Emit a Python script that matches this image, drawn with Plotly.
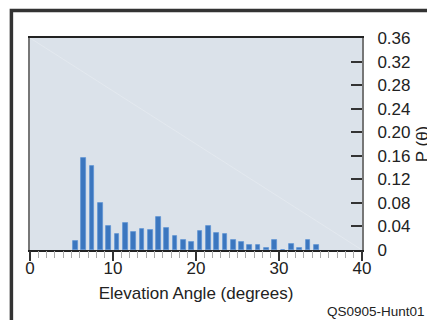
import plotly.graph_objects as go

# Elevation angle bins (degrees, lower edge of each 1-degree bin)
angles = list(range(5, 35))
# Probability P(theta) for each bin
probs = [0.016, 0.156, 0.143, 0.079, 0.041, 0.027, 0.046, 0.031, 0.035, 0.034,
         0.0555, 0.037, 0.023, 0.0165, 0.014, 0.032, 0.041, 0.029, 0.027, 0.0175,
         0.014, 0.008, 0.0085, 0.003, 0.0165, 0.0, 0.011, 0.003, 0.0165, 0.008]

y_ticks = [0, 0.04, 0.08, 0.12, 0.16, 0.20, 0.24, 0.28, 0.32, 0.36]
y_labels = ["0", "0.04", "0.08", "0.12", "0.16", "0.20", "0.24", "0.28", "0.32", "0.36"]
x_ticks = [0, 10, 20, 30, 40]

FONT = "Liberation Sans, Arial, sans-serif"

bar_x = [a + 0.48 for a in angles]

fig = go.Figure()
fig.add_trace(go.Bar(
    x=bar_x, y=probs, width=0.56,
    marker=dict(color="#3b76bf", line=dict(color="#5f93d3", width=0.8)),
    hoverinfo="skip",
))
# invisible companion trace so the tick-mark overlay axis is drawn
fig.add_trace(go.Scatter(
    x=bar_x, y=probs, xaxis="x2", mode="markers",
    marker=dict(opacity=0), hoverinfo="skip",
))

# page has an 8px body margin, so the figure is sized to fit inside it
fig.update_layout(
    width=427, height=312,
    margin=dict(l=22, r=73, t=30, b=70),
    paper_bgcolor="white",
    plot_bgcolor="#dbe2ea",
    showlegend=False,
    font=dict(family=FONT, color="#222", size=17),
    bargap=0,
    xaxis2=dict(
        overlaying="x", anchor="y", side="bottom", range=[0, 40], automargin=False,
        tickvals=x_ticks, showticklabels=False,
        ticks="outside", ticklen=10, tickwidth=1.5, tickcolor="#333",
        minor=dict(dtick=1, tick0=0, ticks="outside", ticklen=7, tickwidth=1,
                   tickcolor="#aaa", showgrid=False),
        showline=False, showgrid=False, zeroline=False,
    ),
)

fig.layout.xaxis.update(
    range=[0, 40], automargin=False,
    tickvals=x_ticks,
    ticks="", ticklabelstandoff=2,
    showline=True, linecolor="#222", linewidth=1.5, mirror=True,
    showgrid=False, zeroline=False,
    tickfont=dict(size=17, family=FONT, color="#222"),
    title=dict(text="Elevation Angle (degrees)", font=dict(size=17, family=FONT, color="#222"), standoff=10),
)

fig.update_yaxes(
    side="right", automargin=False,
    range=[0, 0.36],
    tickvals=y_ticks, ticktext=y_labels,
    ticks="inside", ticklen=11, tickwidth=1.5, tickcolor="#333",
    ticklabelstandoff=10,
    showline=True, linecolor="#777", linewidth=2, mirror=True,
    showgrid=False, zeroline=False,
    tickfont=dict(size=17, family=FONT, color="#222"),
    title=dict(text="P (θ)", font=dict(size=17, family=FONT, color="#222"), standoff=7),
)

# faint diagonal artifact across plot area
fig.add_shape(type="line", xref="paper", yref="paper", x0=0, y0=1, x1=1, y1=0,
              line=dict(color="rgba(255,255,255,0.22)", width=1), layer="below")

# outer frame
fig.add_shape(type="rect", xref="paper", yref="paper",
              x0=-0.056, y0=-0.6, x1=1.6, y1=1.13,
              line=dict(color="#333", width=3.5), fillcolor="rgba(0,0,0,0)")

fig.add_annotation(text="QS0905-Hunt01", xref="paper", yref="paper",
                   x=1.196, y=-0.292, xanchor="right", yanchor="middle", showarrow=False,
                   font=dict(size=13.5, family=FONT, color="#222"))

fig.write_html("out.html")
